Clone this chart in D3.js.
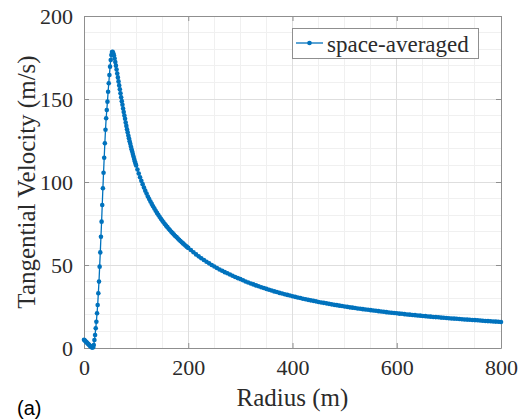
<!DOCTYPE html>
<html>
<head>
<meta charset="utf-8">
<script src="https://cdn.jsdelivr.net/npm/d3@7"></script>
<style>
  html, body { margin: 0; padding: 0; background: #fff; }
  svg { display: block; }
  .serif { font-family: "Liberation Serif", "Tinos", "Nimbus Roman", "Nimbus Roman No9 L", "FreeSerif", "Noto Serif", "DejaVu Serif", "Times New Roman", Times, serif; }
  .sans { font-family: "Liberation Sans", Arial, "DejaVu Sans", sans-serif; }
</style>
</head>
<body>
<svg id="chart" width="522" height="419"></svg>
<script>
// ---- data ----
const seriesName = "space-averaged";
const xTicks = [0, 200, 400, 600, 800];
const yTicks = [0, 50, 100, 150, 200];
const xLabel = "Radius (m)";
const yLabel = "Tangential Velocity (m/s)";
const panelLabel = "(a)";

// core region (dense samples, 1.25 m)
const radiusCore = [0, 1.25, 2.5, 3.75, 5, 6.25, 7.5, 8.75, 10, 11.25, 12.5, 13.75, 15, 16.25, 17.5,
  18.75, 20, 21.25, 22.5, 23.75, 25, 26.25, 27.5, 28.75, 30, 31.25, 32.5, 33.75, 35, 36.25, 37.5,
  38.75, 40, 41.25, 42.5, 43.75, 45, 46.25, 47.5, 48.75, 50, 51.25, 52.5, 53.75,
  55, 56.25, 57.5, 58.75, 60, 61.25, 62.5, 63.75, 65, 66.25, 67.5, 68.75, 70, 71.25, 72.5, 73.75,
  75, 76.25, 77.5, 78.75, 80, 81.25, 82.5, 83.75, 85, 86.25, 87.5, 88.75, 90, 91.25, 92.5, 93.75,
  95, 96.25, 97.5, 98.75, 100];
const velocityCore = [5.0, 4.6, 4.2, 3.8, 3.4, 3.0, 2.6, 2.2, 1.8, 1.4, 1.0, 0.7, 0.4, 0.3, 0.5,
  1.8, 4.8, 7.8, 11.9, 15.8, 20.9, 25.9, 33.0, 40.0, 49.0, 57.6, 67.0, 76.1, 86.1, 96.2, 105.6,
  114.6, 123.3, 131.5, 138.4, 143.4, 148.4, 154.4, 159.5, 164.5, 169.5, 173.5, 176.5, 178.3,
  178.4, 177.6, 176.2, 174.4, 172.3, 170.1, 167.8, 165.4, 163.0, 160.6, 158.2, 155.8, 153.4, 151.0, 148.7, 146.5,
  144.3, 142.2, 140.1, 138.1, 135.8, 133.8, 131.8, 129.9, 128.0, 126.3, 124.6, 123.0, 121.4, 119.8, 118.3, 116.8,
  115.3, 113.9, 112.5, 111.2, 110.0];

// mid region (2.5 m)
const radiusMid = [102.5, 105, 107.5, 110, 112.5, 115, 117.5, 120, 122.5, 125, 127.5, 130, 132.5, 135,
  137.5, 140, 142.5, 145, 147.5, 150, 152.5, 155, 157.5, 160, 162.5, 165, 167.5, 170, 172.5, 175,
  177.5, 180, 182.5, 185, 187.5, 190, 192.5, 195, 197.5, 200];
const velocityMid = [107.5, 105.1, 102.9, 100.7, 98.7, 96.7, 94.8, 93.0, 91.3, 89.8, 88.2, 86.8, 85.4, 84.0,
  82.7, 81.4, 80.2, 79.0, 77.9, 76.8, 75.7, 74.7, 73.7, 72.8, 71.8, 70.9, 70.0, 69.2, 68.3, 67.5,
  66.8, 66.0, 65.2, 64.5, 63.7, 63.0, 62.3, 61.6, 60.9, 60.3];

// outer region (5 m)
const radiusOuter = [205, 210, 215, 220, 225, 230, 235, 240, 245, 250, 255, 260, 265, 270, 275, 280, 285, 290, 295, 300,
  305, 310, 315, 320, 325, 330, 335, 340, 345, 350, 355, 360, 365, 370, 375, 380, 385, 390, 395, 400,
  405, 410, 415, 420, 425, 430, 435, 440, 445, 450, 455, 460, 465, 470, 475, 480, 485, 490, 495, 500,
  505, 510, 515, 520, 525, 530, 535, 540, 545, 550, 555, 560, 565, 570, 575, 580, 585, 590, 595, 600,
  605, 610, 615, 620, 625, 630, 635, 640, 645, 650, 655, 660, 665, 670, 675, 680, 685, 690, 695, 700,
  705, 710, 715, 720, 725, 730, 735, 740, 745, 750, 755, 760, 765, 770, 775, 780, 785, 790, 795, 800];
const velocityOuter = [59.0, 57.7, 56.4, 55.2, 54.1, 53.0, 52.0, 51.0, 50.0, 49.1, 48.2, 47.3, 46.5, 45.7, 45.0, 44.3, 43.5, 42.8, 42.1, 41.5,
  40.8, 40.1, 39.5, 38.9, 38.3, 37.7, 37.2, 36.6, 36.1, 35.6, 35.1, 34.6, 34.1, 33.7, 33.2, 32.8, 32.4, 32.0, 31.6, 31.2,
  30.8, 30.4, 30.1, 29.7, 29.4, 29.0, 28.7, 28.4, 28.1, 27.7, 27.4, 27.2, 26.9, 26.6, 26.3, 26.0, 25.8, 25.5, 25.3, 25.0,
  24.8, 24.5, 24.3, 24.1, 23.8, 23.6, 23.4, 23.2, 23.0, 22.8, 22.6, 22.4, 22.2, 22.0, 21.8, 21.6, 21.4, 21.2, 21.1, 20.9,
  20.7, 20.6, 20.4, 20.2, 20.1, 19.9, 19.8, 19.6, 19.5, 19.3, 19.2, 19.0, 18.9, 18.7, 18.6, 18.5, 18.3, 18.2, 18.1, 17.9,
  17.8, 17.7, 17.6, 17.5, 17.3, 17.2, 17.1, 17.0, 16.9, 16.8, 16.7, 16.6, 16.4, 16.3, 16.2, 16.1, 16.0, 15.9, 15.8, 15.7];

// ---- build series ----
const radius = radiusCore.concat(radiusMid, radiusOuter);
const velocity = velocityCore.concat(velocityMid, velocityOuter);
const points = radius.map((r, i) => ({ r, v: velocity[i] }));

// ---- layout ----
const W = 522, H = 419;
const plot = { left: 84, right: 501, top: 16, bottom: 348 };
const blue = "#0072BD";
const axisColor = "#8f8f8f";
const textColor = "#2b2b2b";

const svg = d3.select("#chart");
svg.append("rect").attr("width", W).attr("height", H).attr("fill", "#fff");

const x = d3.scaleLinear().domain([0, 800]).range([plot.left, plot.right]);
const y = d3.scaleLinear().domain([0, 200]).range([plot.bottom, plot.top]);

// minor grid
const xMinor = d3.range(0, 801, 50).filter(d => !xTicks.includes(d));
const yMinor = d3.range(0, 201, 10).filter(d => !yTicks.includes(d));
const grid = svg.append("g");
grid.selectAll(".xm").data(xMinor).join("line")
  .attr("x1", d => x(d)).attr("x2", d => x(d)).attr("y1", plot.top).attr("y2", plot.bottom)
  .attr("stroke", "#f0f0f0").attr("stroke-width", 1).attr("shape-rendering", "crispEdges");
grid.selectAll(".ym").data(yMinor).join("line")
  .attr("y1", d => y(d)).attr("y2", d => y(d)).attr("x1", plot.left).attr("x2", plot.right)
  .attr("stroke", "#f0f0f0").attr("stroke-width", 1).attr("shape-rendering", "crispEdges");
// major grid
grid.selectAll(".xM").data(xTicks).join("line")
  .attr("x1", d => x(d)).attr("x2", d => x(d)).attr("y1", plot.top).attr("y2", plot.bottom)
  .attr("stroke", "#dedede").attr("stroke-width", 1).attr("shape-rendering", "crispEdges");
grid.selectAll(".yM").data(yTicks).join("line")
  .attr("y1", d => y(d)).attr("y2", d => y(d)).attr("x1", plot.left).attr("x2", plot.right)
  .attr("stroke", "#dedede").attr("stroke-width", 1).attr("shape-rendering", "crispEdges");

// axes (ticks inward)
const tickLen = 5;
const xAxisB = d3.axisBottom(x).tickValues(xTicks).tickSizeInner(-tickLen).tickSizeOuter(0).tickPadding(16);
const xAxisT = d3.axisTop(x).tickValues(xTicks).tickSizeInner(-tickLen).tickSizeOuter(0).tickFormat("");
const yAxisL = d3.axisLeft(y).tickValues(yTicks).tickSizeInner(-tickLen).tickSizeOuter(0).tickPadding(11);
const yAxisR = d3.axisRight(y).tickValues(yTicks).tickSizeInner(-tickLen).tickSizeOuter(0).tickFormat("");

function styleAxis(g) {
  g.attr("font-family", null).attr("font-size", null).attr("class", "serif");
  g.select(".domain").attr("stroke", axisColor).attr("stroke-width", 1);
  g.selectAll(".tick line").attr("stroke", axisColor).attr("stroke-width", 1);
  g.selectAll(".tick text").attr("fill", textColor).attr("class", "serif").style("font-size", "22px");
}
svg.append("g").attr("transform", `translate(0,${plot.bottom})`).call(xAxisB).call(styleAxis)
  .selectAll(".tick text").attr("dy", "0.5em");
svg.append("g").attr("transform", `translate(0,${plot.top})`).call(xAxisT).call(styleAxis);
svg.append("g").attr("transform", `translate(${plot.left},0)`).call(yAxisL).call(styleAxis)
  .selectAll(".tick text").attr("dy", "0.34em");
svg.append("g").attr("transform", `translate(${plot.right},0)`).call(yAxisR).call(styleAxis);

// series
const line = d3.line().x(d => x(d.r)).y(d => y(d.v));
svg.append("path").datum(points).attr("d", line)
  .attr("fill", "none").attr("stroke", blue).attr("stroke-width", 1.3);
svg.append("g").selectAll("circle").data(points).join("circle")
  .attr("cx", d => x(d.r)).attr("cy", d => y(d.v)).attr("r", 2.3).attr("fill", blue);

// axis labels
svg.append("text").attr("class", "serif").attr("x", (plot.left + plot.right) / 2).attr("y", 406)
  .attr("text-anchor", "middle").style("font-size", "25px")
  .attr("fill", textColor).text(xLabel);
svg.append("text").attr("class", "serif").attr("transform", `translate(35,${(plot.top + plot.bottom) / 2}) rotate(-90)`)
  .attr("text-anchor", "middle").style("font-size", "25px")
  .attr("fill", textColor).text(yLabel);

// legend
const leg = svg.append("g");
leg.append("rect").attr("x", 292.5).attr("y", 28.5).attr("width", 186).attr("height", 30)
  .attr("fill", "#fff").attr("stroke", axisColor).attr("stroke-width", 1);
leg.append("line").attr("x1", 296).attr("x2", 323).attr("y1", 43).attr("y2", 43)
  .attr("stroke", blue).attr("stroke-width", 1.3);
leg.append("circle").attr("cx", 309.5).attr("cy", 43).attr("r", 2.3).attr("fill", blue);
leg.append("text").attr("class", "serif").attr("x", 327).attr("y", 52).style("font-size", "23px")
  .attr("fill", textColor).text(seriesName);

// panel label
svg.append("text").attr("class", "sans").attr("x", 17).attr("y", 415)
  .style("font-size", "20px").attr("fill", "#000").text(panelLabel);
</script>
</body>
</html>
